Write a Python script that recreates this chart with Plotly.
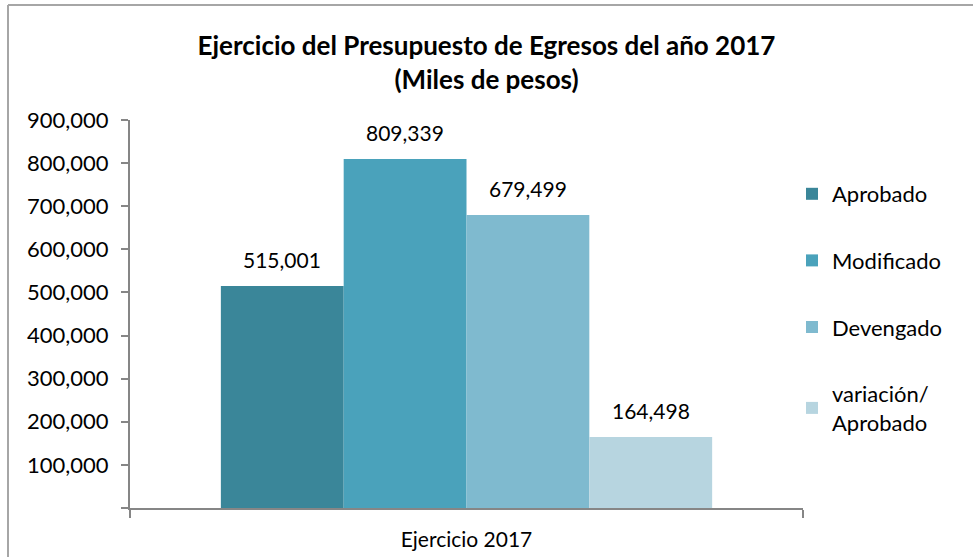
import plotly.graph_objects as go

categories = ["Ejercicio 2017"]
series_names = ["Aprobado", "Modificado", "Devengado", "variación/<br>Aprobado"]
series_values = [[515001], [809339], [679499], [164498]]
series_colors = ["#3A8699", "#4AA2BB", "#7FBACF", "#B7D5E0"]
y_tickvals = [0, 100000, 200000, 300000, 400000, 500000, 600000, 700000, 800000, 900000]
y_ticktext = ["", "100,000", "200,000", "300,000", "400,000", "500,000",
              "600,000", "700,000", "800,000", "900,000"]

FONT = "Lato"
W, H = 973, 557
L, R, T, B = 130, 170, 120, 49
pw, ph = W - L - R, H - T - B
BARGAP = 0.27
bar_px = pw * (1 - BARGAP) / len(series_names)

fig = go.Figure()
for i, (name, vals, col) in enumerate(zip(series_names, series_values, series_colors)):
    fig.add_trace(go.Bar(
        x=categories, y=vals, name=name, marker=dict(color=col, line=dict(width=0)),
        legendgroup=f"g{i}",
    ))
    for c, v in zip(categories, vals):
        fig.add_annotation(x=c, y=v, text=f"{v:,}", showarrow=False,
                           xanchor="center", yanchor="bottom",
                           xshift=(i - (len(series_names) - 1) / 2) * bar_px, yshift=12,
                           font=dict(family=FONT, size=21, color="#000000"))

fig.update_layout(
    width=W, height=H,
    margin=dict(l=L, r=R, t=T, b=B, autoexpand=False),
    paper_bgcolor="white", plot_bgcolor="white",
    barmode="group", bargap=BARGAP, bargroupgap=0,
    font=dict(family=FONT, size=21, color="#000000"),
    title=dict(text="<b>Ejercicio del Presupuesto de Egresos del año 2017<br>(Miles de pesos)</b>",
               x=0.5, xanchor="center", y=1 - 55 / H, yanchor="top",
               font=dict(family=FONT, size=26, color="#000000")),
    legend=dict(x=(792 - L) / pw, xanchor="left", y=(508 - 173) / ph, yanchor="top",
                font=dict(family=FONT, size=22), tracegroupgap=35,
                itemwidth=30, bgcolor="rgba(0,0,0,0)"),
    showlegend=True,
    xaxis=dict(showline=True, linecolor="#868686", linewidth=2, ticks="outside",
               tickson="boundaries", ticklen=8, tickcolor="#868686", tickwidth=2,
               ticklabelstandoff=12, automargin=False,
               tickfont=dict(family=FONT, size=21), showgrid=False, zeroline=False),
    yaxis=dict(range=[0, 900000], tickvals=y_tickvals, ticktext=y_ticktext,
               showline=True, linecolor="#868686", linewidth=2, ticks="outside",
               ticklen=7, tickcolor="#868686", tickwidth=2, showgrid=False, zeroline=False,
               ticklabelstandoff=8, automargin=False,
               tickfont=dict(family=FONT, size=22)),
)

# chart-area frame (top and left edges visible in the reference)
fx0 = (8 - L) / pw
fy1 = (508 - 5) / ph
fig.add_shape(type="line", xref="paper", yref="paper", x0=fx0, x1=(W - L) / pw + 0.01,
              y0=fy1, y1=fy1, line=dict(color="#A6A6A6", width=2))
fig.add_shape(type="line", xref="paper", yref="paper", x0=fx0, x1=fx0,
              y0=fy1, y1=-B / ph - 0.01, line=dict(color="#A6A6A6", width=2))

fig.write_html("out.html", config={"displayModeBar": False},
               post_script="document.body.style.margin='0';")
